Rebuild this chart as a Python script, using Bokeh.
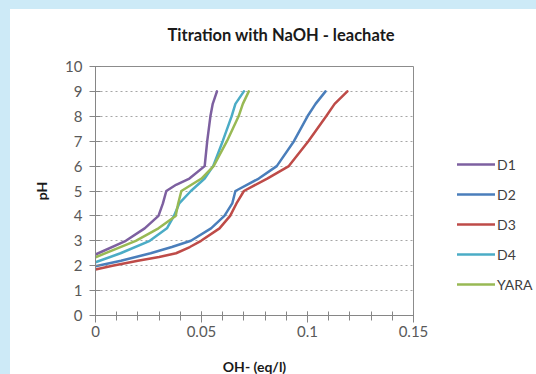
from bokeh.plotting import figure
from bokeh.models import FixedTicker, Legend, LegendItem, Range1d
from bokeh.embed import file_html
from bokeh.resources import INLINE

# ---- data ----
series_names = ["D1", "D2", "D3", "D4", "YARA"]
series_colors = ["#7D60A0", "#4A7EBB", "#BE4B48", "#4BACC6", "#98B954"]

d1_x = [0, 0.0143, 0.0232, 0.0297, 0.0318, 0.0334, 0.038, 0.0443, 0.0515, 0.0527, 0.0542, 0.0553, 0.0573]
d1_ph = [2.45, 3.0, 3.5, 4.0, 4.5, 5.0, 5.25, 5.5, 6.0, 7.0, 8.0, 8.5, 9.0]

d2_x = [0, 0.012, 0.026, 0.036, 0.045, 0.0545, 0.0608, 0.0645, 0.066, 0.077, 0.0855, 0.0936, 0.1, 0.1038, 0.1085]
d2_ph = [1.98, 2.2, 2.5, 2.75, 3.0, 3.5, 4.0, 4.5, 5.0, 5.5, 6.0, 7.0, 8.0, 8.5, 9.0]

d3_x = [0, 0.008, 0.02, 0.03, 0.038, 0.0445, 0.0498, 0.0585, 0.0635, 0.0665, 0.070, 0.081, 0.0912, 0.1004, 0.1088, 0.1128, 0.1188]
d3_ph = [1.85, 2.0, 2.2, 2.35, 2.5, 2.75, 3.0, 3.5, 4.0, 4.5, 5.0, 5.5, 6.0, 7.0, 8.0, 8.5, 9.0]

d4_x = [0, 0.0118, 0.0256, 0.0337, 0.037, 0.0395, 0.045, 0.0515, 0.0555, 0.0600, 0.0642, 0.066, 0.0700]
d4_ph = [2.14, 2.5, 3.0, 3.5, 4.0, 4.5, 5.0, 5.5, 6.0, 7.0, 8.0, 8.5, 9.0]

yara_x = [0, 0.019, 0.0297, 0.0378, 0.039, 0.0405, 0.050, 0.0557, 0.062, 0.0675, 0.0695, 0.0723]
yara_ph = [2.34, 3.0, 3.5, 4.0, 4.5, 5.0, 5.5, 6.0, 7.0, 8.0, 8.5, 9.0]

x_ticks = [0, 0.05, 0.1, 0.15]
x_tick_labels = ["0", "0.05", "0.1", "0.15"]
x_minor_ticks = [0.01 * i for i in range(16)]
y_ticks = list(range(0, 11))
grid_ticks = list(range(1, 10))

FONT = "Lato"
BLUE_BG = "#cdeaf7"

p = figure(frame_width=318, frame_height=249, output_backend="svg", toolbar_location=None,
           x_range=Range1d(0, 0.15), y_range=Range1d(0, 10),
           min_border_left=95, min_border_right=123, min_border_top=66, min_border_bottom=59,
           title="Titration  with NaOH - leachate",
           styles={"background": "linear-gradient(to right, %s 10px, transparent 10px), "
                                 "linear-gradient(to bottom, %s 9px, white 9px)" % (BLUE_BG, BLUE_BG)})
p.border_fill_alpha = 0
p.background_fill_color = "white"
p.outline_line_color = "#8c8c8c"
p.outline_line_width = 1

p.title.align = "left"
p.title.offset = 72
p.title.text_font = FONT
p.title.text_font_size = "16.5px"
p.title.text_font_style = "bold"
p.title.text_color = "#1a1a1a"
p.title.standoff = 44

# axes
p.xaxis.ticker = FixedTicker(ticks=x_ticks, minor_ticks=x_minor_ticks)
p.xaxis.major_label_overrides = {t: l for t, l in zip(x_ticks, x_tick_labels)}
p.yaxis.ticker = FixedTicker(ticks=y_ticks)
for ax in (p.xaxis[0], p.yaxis[0]):
    ax.axis_line_color = "#868686"
    ax.major_tick_line_color = "#868686"
    ax.minor_tick_line_color = "#868686"
    ax.major_label_text_font = FONT
    ax.major_label_text_font_size = "15px"
    ax.major_label_text_color = "#595959"
    ax.axis_label_text_font = FONT
    ax.axis_label_text_font_size = "14px"
    ax.axis_label_text_font_style = "bold"
    ax.axis_label_text_color = "#1a1a1a"

p.xaxis.major_tick_in = 4
p.xaxis.major_tick_out = 7
p.xaxis.minor_tick_in = 4
p.xaxis.minor_tick_out = 5
p.xaxis.major_label_standoff = 3
p.xaxis.axis_label = "OH- (eq/l)"
p.xaxis.axis_label_standoff = 18

p.yaxis.major_tick_in = 5
p.yaxis.major_tick_out = 6
p.yaxis.minor_tick_line_color = None
p.yaxis.major_label_standoff = 7
p.yaxis.axis_label = "pH"
p.yaxis.axis_label_standoff = 12

p.xgrid.visible = False
p.ygrid.ticker = FixedTicker(ticks=grid_ticks)
p.ygrid.grid_line_color = "#a6a6a6"
p.ygrid.grid_line_dash = "2 3"
p.ygrid.grid_line_width = 1

xs = [d1_x, d2_x, d3_x, d4_x, yara_x]
ys = [d1_ph, d2_ph, d3_ph, d4_ph, yara_ph]
items = []
for name, color, x, y in zip(series_names, series_colors, xs, ys):
    r = p.line(x, y, line_color=color, line_width=2.5, line_join="round", line_cap="round")
    items.append(LegendItem(label=name, renderers=[r]))

legend = Legend(items=items, location=(44, 21), orientation="vertical",
                padding=0, margin=0, spacing=10, glyph_width=38, glyph_height=20,
                label_height=20, label_standoff=2,
                label_text_font=FONT, label_text_font_size="14px", label_text_color="#404040",
                border_line_color=None, background_fill_alpha=0)
p.add_layout(legend, "right")

open("out.html", "w").write(file_html(p, INLINE))
